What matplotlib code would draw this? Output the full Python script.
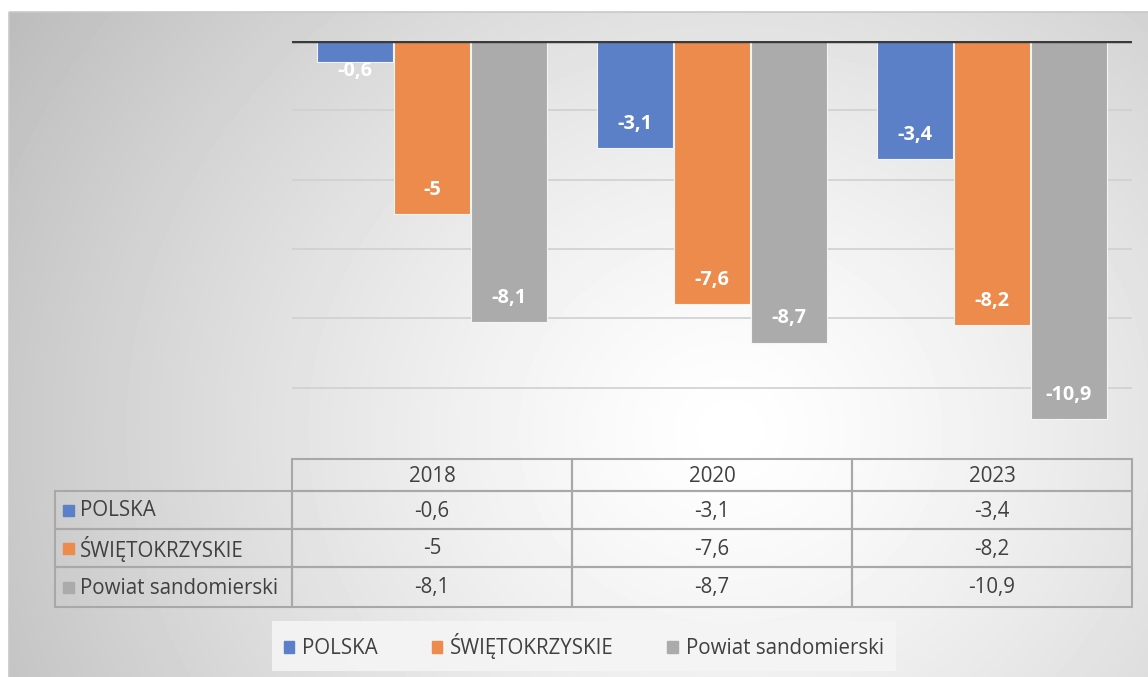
import matplotlib.pyplot as plt
import numpy as np
from matplotlib.patches import Rectangle, Patch

plt.rcParams['font.family'] = ['Open Sans', 'DejaVu Sans']

years = ['2018', '2020', '2023']
series = ['POLSKA', 'ŚWIĘTOKRZYSKIE', 'Powiat sandomierski']
polska = [-0.6, -3.1, -3.4]
swietokrzyskie = [-5, -7.6, -8.2]
sandomierski = [-8.1, -8.7, -10.9]
colors = ['#5b80c8', '#ec8b4b', '#ababab']

W, H = 1148, 677
fig = plt.figure(figsize=(W / 100, H / 100), dpi=100)

# background: radial gradient in a frame, pixel coords
bg = fig.add_axes([0, 0, 1, 1], zorder=0)
bg.set_xlim(0, W)
bg.set_ylim(H, 0)
bg.axis('off')
yy, xx = np.mgrid[0:H, 0:W]
r = np.hypot(xx - 730, (yy - 430) * 1.1) / 820
shade = np.clip(1.0 - 0.25 * r ** 1.3, 0.74, 1.0)
shade[:12, :] = 1.0
shade[:, :9] = 1.0
bg.imshow(shade, cmap='gray', vmin=0, vmax=1, extent=(0, W, H, 0), aspect='auto')
bg.add_patch(Rectangle((9, 12), W, H, fill=False, ec='#c8c8c8', lw=1.2))

# bars
ax = fig.add_axes([292 / W, 1 - 457 / H, (1132 - 292) / W, (457 - 41) / H], zorder=1)
ax.patch.set_alpha(0)
x = np.arange(len(years))
w = 0.27
for i, (vals, c) in enumerate(zip([polska, swietokrzyskie, sandomierski], colors)):
    xs = x + (i - 1) * 0.275
    ax.bar(xs, vals, w, color=c, edgecolor='#f4f4f4', linewidth=0.8, zorder=3)
    for xi, v in zip(xs, vals):
        ly = v + 0.7 if v < -1.5 else v - 0.27
        ax.text(xi, ly, f'{v:g}'.replace('.', ','), ha='center', va='center',
                color='white', fontsize=14.3, fontweight='bold', zorder=4)

ax.set_xlim(-0.5, 2.5)
ax.set_ylim(-12, 0)
ax.set_yticks([-2, -4, -6, -8, -10])
ax.yaxis.grid(True, color='#d0d0d0', lw=1.2)
ax.set_axisbelow(True)
ax.axhline(0, color='#3a3a3a', lw=3.2, zorder=5)
ax.tick_params(left=False, bottom=False, labelleft=False, labelbottom=False)
for s in ax.spines.values():
    s.set_visible(False)

# data table
col_edges = [55, 292, 572, 852, 1132]
row_edges = [459, 491, 529, 567, 607]
tc = '#a8a8a8'
fs = 14.8
for j, yr in enumerate(years):
    x0, x1 = col_edges[j + 1], col_edges[j + 2]
    bg.add_patch(Rectangle((x0, row_edges[0]), x1 - x0, row_edges[1] - row_edges[0],
                           fill=False, ec=tc, lw=1.5))
    bg.text((x0 + x1) / 2, (row_edges[0] + row_edges[1]) / 2 + 1, yr, ha='center',
            va='center', fontsize=fs, color='#404040')
for i, (name, vals, c) in enumerate(zip(series, [polska, swietokrzyskie, sandomierski], colors)):
    y0, y1 = row_edges[i + 1], row_edges[i + 2]
    ym = (y0 + y1) / 2 + 1
    bg.add_patch(Rectangle((col_edges[0], y0), col_edges[1] - col_edges[0], y1 - y0,
                           fill=False, ec=tc, lw=1.5))
    bg.add_patch(Rectangle((63, ym - 6), 11, 11, color=c))
    bg.text(80, ym, name, ha='left', va='center', fontsize=fs, color='#404040')
    for j, v in enumerate(vals):
        x0, x1 = col_edges[j + 1], col_edges[j + 2]
        bg.add_patch(Rectangle((x0, y0), x1 - x0, y1 - y0, fill=False, ec=tc, lw=1.5))
        bg.text((x0 + x1) / 2, ym, f'{v:g}'.replace('.', ','), ha='center', va='center',
                fontsize=fs, color='#404040')

# legend
handles = [Patch(color=c, label=s) for c, s in zip(colors, series)]
leg = fig.legend(handles=handles, loc='center', bbox_to_anchor=(584 / W, 1 - 646 / H),
                 ncol=3, frameon=True, fontsize=fs, handlelength=0.5, handleheight=0.5,
                 handletextpad=0.4, columnspacing=2.6, borderpad=0.6, borderaxespad=0,
                 fancybox=False, facecolor='#f5f5f5', edgecolor='none', framealpha=0.9)
for t in leg.get_texts():
    t.set_color('#404040')

fig.savefig('out.png', dpi=100)
